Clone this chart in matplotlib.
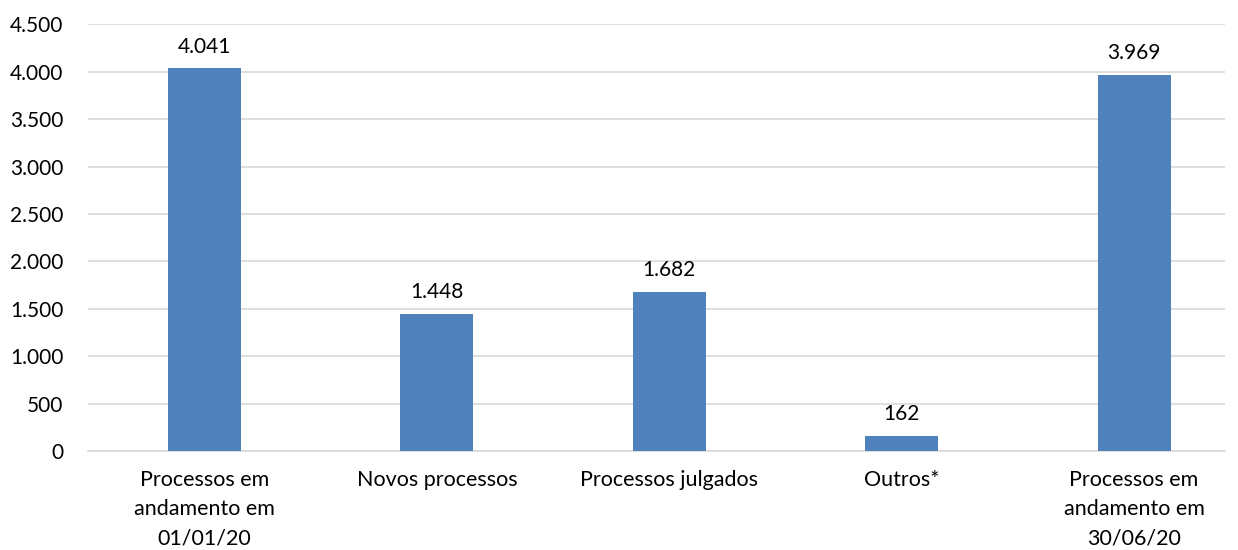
import matplotlib
matplotlib.use("Agg")
import matplotlib.pyplot as plt
from matplotlib.ticker import FuncFormatter

categories = ["Processos em\nandamento em\n01/01/20", "Novos processos",
              "Processos julgados", "Outros*",
              "Processos em\nandamento em\n30/06/20"]
values = [4041, 1448, 1682, 162, 3969]
yticks = [0, 500, 1000, 1500, 2000, 2500, 3000, 3500, 4000, 4500]

def fmt(v):
    return f"{int(v):,}".replace(",", ".")

plt.rcParams['font.family'] = ['Lato', 'DejaVu Sans']

fig = plt.figure(figsize=(12.38, 5.5), dpi=100)
ax = fig.add_axes([0.0713, 0.18, 0.918, 0.7755])

x = list(range(len(categories)))
bars = ax.bar(x, values, width=0.314, color="#4F81BD", zorder=3)

for xi, v in zip(x, values):
    ax.text(xi, v + 120, fmt(v), ha="center", va="bottom", fontsize=15, color="#000000")

ax.set_xlim(-0.5, 4.39)
ax.set_ylim(0, 4500)
ax.set_yticks(yticks)
ax.yaxis.set_major_formatter(FuncFormatter(lambda v, p: fmt(v)))
ax.set_xticks(x)
ax.set_xticklabels(categories, fontsize=15.5, linespacing=1.55)
ax.tick_params(axis="y", labelsize=15, length=0, pad=18)
ax.tick_params(axis="x", length=0, pad=14)

ax.grid(axis="y", color="#D9D9D9", linewidth=1.2, zorder=0)
for s in ["top", "right", "left"]:
    ax.spines[s].set_visible(False)
ax.spines["bottom"].set_color("#D9D9D9")
ax.spines["bottom"].set_linewidth(1.2)

plt.savefig("out.png", dpi=100)
plt.close(fig)
